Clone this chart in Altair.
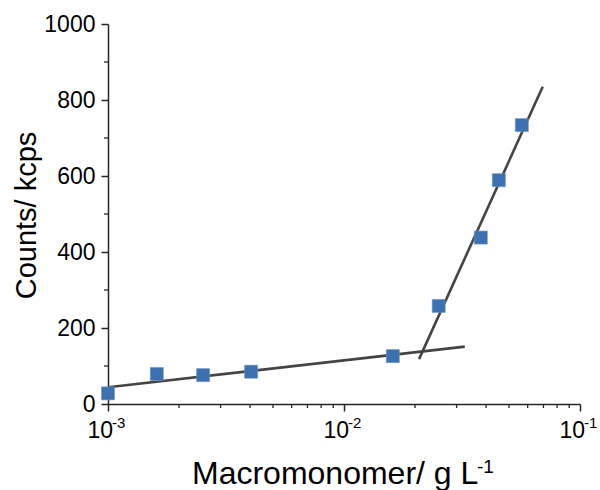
import altair as alt
import pandas as pd

# Measured fluorescence counts versus macromonomer concentration
conc = [0.001, 0.00161, 0.00253, 0.00404, 0.0161, 0.0252, 0.038, 0.0453, 0.0567]
counts = [28, 79, 76, 85, 126, 258, 438, 589, 734]

# End points of the two linear fits (below and above the break)
fit_low_x = [0.001, 0.0325]
fit_low_y = [44, 151]
fit_high_x = [0.0208, 0.0695]
fit_high_y = [118, 835]

# Axis ticks and labels
x_major = [0.001, 0.01, 0.1]
x_exponents = ["-3", "-2", "-1"]
x_minor = [m * d for d in (0.001, 0.01) for m in range(2, 10)]
y_major = [0, 200, 400, 600, 800, 1000]
y_minor = [100, 300, 500, 700, 900]

x_title = "Macromonomer/ g L"
x_title_sup = "-1"
y_title = "Counts/ kcps"

FONT = "Liberation Sans"
INK = "#262626"
LINE = "#444444"
MARKER = "#3d70ae"

W, H = 472, 380

x_scale = alt.Scale(type="log", domain=[0.001, 0.1], nice=False)
y_scale = alt.Scale(domain=[0, 1000], nice=False)

points = pd.DataFrame({"conc": conc, "counts": counts})
fits = pd.concat([
    pd.DataFrame({"conc": fit_low_x, "counts": fit_low_y, "fit": "low"}),
    pd.DataFrame({"conc": fit_high_x, "counts": fit_high_y, "fit": "high"}),
])

x_axis = alt.Axis(values=x_major, labels=False, title=None, grid=False,
                  tickSize=7, tickWidth=1.5, tickColor=INK,
                  domainColor=INK, domainWidth=1.5)
y_axis = alt.Axis(values=y_major, grid=False, title=y_title, format="d",
                  labelFont=FONT, labelFontSize=23, labelColor="black",
                  labelPadding=6, tickSize=7, tickWidth=1.5, tickColor=INK,
                  domainColor=INK, domainWidth=1.5,
                  titleFont=FONT, titleFontSize=29, titleFontWeight="normal",
                  titleColor="black", titleAngle=-90, titleAlign="center",
                  titleBaseline="alphabetic", titleX=-73, titleY=H / 2 + 1)

fit_lines = alt.Chart(fits).mark_line(color=LINE, strokeWidth=2.6).encode(
    x=alt.X("conc:Q", scale=x_scale, axis=x_axis),
    y=alt.Y("counts:Q", scale=y_scale, axis=y_axis),
    detail="fit:N",
)

squares = alt.Chart(points).mark_point(
    shape="square", filled=True, size=170, opacity=1,
    color=MARKER, stroke="#6f95c4", strokeWidth=0.6,
).encode(
    x=alt.X("conc:Q", scale=x_scale),
    y=alt.Y("counts:Q", scale=y_scale),
)

# Minor ticks on both axes (outward, shorter than the major ones)
x_minor_ticks = alt.Chart(pd.DataFrame({"conc": x_minor})).mark_rule(
    color=INK, strokeWidth=1.3
).encode(
    x=alt.X("conc:Q", scale=x_scale),
    y=alt.value(H), y2=alt.value(H + 4),
)
y_minor_ticks = alt.Chart(pd.DataFrame({"counts": y_minor})).mark_rule(
    color=INK, strokeWidth=1.3
).encode(
    y=alt.Y("counts:Q", scale=y_scale),
    x=alt.value(0), x2=alt.value(-4),
)

# Power-of-ten tick labels: base and raised exponent
decades = pd.DataFrame({"conc": x_major, "exp": x_exponents, "base": ["10"] * 3})
x_base_labels = alt.Chart(decades).mark_text(
    font=FONT, fontSize=23, color="black", align="right",
    baseline="alphabetic", dx=5,
).encode(
    x=alt.X("conc:Q", scale=x_scale), y=alt.value(H + 34), text="base:N",
)
x_exp_labels = alt.Chart(decades).mark_text(
    font=FONT, fontSize=15, color="black", align="left",
    baseline="alphabetic", dx=4,
).encode(
    x=alt.X("conc:Q", scale=x_scale), y=alt.value(H + 24), text="exp:N",
)

# X-axis title with superscript unit exponent
title_df = pd.DataFrame({"t": [x_title], "s": [x_title_sup]})
x_title_main = alt.Chart(title_df).mark_text(
    font=FONT, fontSize=32, color="black", align="left", baseline="alphabetic",
).encode(x=alt.value(84), y=alt.value(H + 80), text="t:N")
x_title_exp = alt.Chart(title_df).mark_text(
    font=FONT, fontSize=19, color="black", align="left", baseline="alphabetic",
).encode(x=alt.value(369), y=alt.value(H + 69), text="s:N")

chart = alt.layer(
    fit_lines, squares, x_minor_ticks, y_minor_ticks,
    x_base_labels, x_exp_labels, x_title_main, x_title_exp,
).properties(
    width=W, height=H,
    autosize=alt.AutoSizeParams(type="none"),
    padding={"left": 108, "top": 24, "right": 20, "bottom": 86},
    background="white",
).configure_view(stroke=None)

chart.save("out.html", embed_options={"renderer": "svg", "actions": False})
